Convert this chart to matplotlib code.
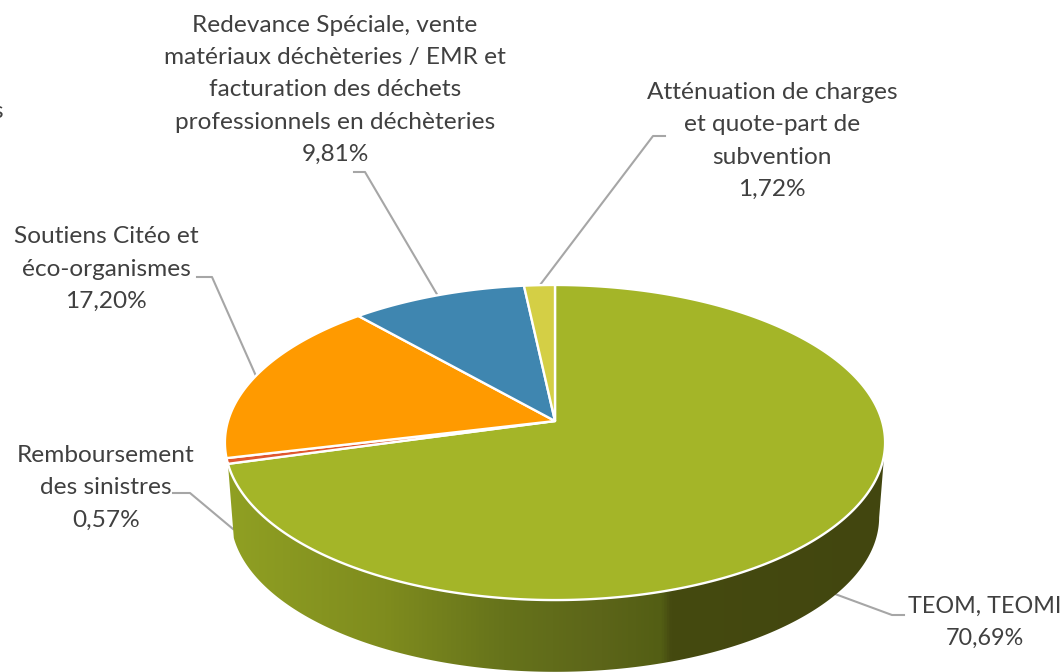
"""
3D-looking pie of revenue shares (TEOM, soutiens, ...) drawn with matplotlib.
"""
import numpy as np
import matplotlib
matplotlib.use("Agg")
import matplotlib.pyplot as plt
from matplotlib.colors import LinearSegmentedColormap
from matplotlib.patches import PathPatch
from matplotlib.path import Path

# data, clockwise from 12 o'clock
shares = [70.69, 0.57, 17.20, 9.81, 1.72]
share_labels = ["70,69%", "0,57%", "17,20%", "9,81%", "1,72%"]
names = [
    "TEOM, TEOMI",
    "Remboursement\ndes sinistres",
    "Soutiens Citéo et\néco-organismes",
    "Redevance Spéciale, vente\nmatériaux déchèteries / EMR et\nfacturation des déchets\nprofessionnels en déchèteries",
    "Atténuation de charges\net quote-part de\nsubvention",
]
colors = ["#a4b528", "#e0572e", "#ff9a00", "#3f86b0", "#d4cf45"]

# where the labels and their leader lines go (pixels)
label_pos = [(985, 622), (106, 488), (106, 269), (335, 90), (772, 141)]
label_sizes = [16.8, 17.6, 17.6, 17.6, 17.6]
leaders = [
    [(835, 594), (892, 615), (904, 615)],
    [(233, 529), (190, 493), (173, 493)],
    [(256, 376), (212, 277), (197, 277)],
    [(438, 296), (365, 172), (354, 172)],
    [(540, 285), (653, 136), (665, 136)],
]

# perspective of the disc
CX, CY = 555, 421
A, B, K = 327, 154.6, 0.1366
DEPTH_Y, DEPTH_SCALE = 496, 0.982

side_stops = ["#90a023", "#7f8c1e", "#66731b", "#5c6519", "#535e14", "#454a10", "#42460f"]
side_xpos = [0.0, 0.24, 0.42, 0.57, 0.66, 0.675, 1.0]


def project(theta):
    u, v = np.sin(theta), np.cos(theta)
    w = 1 + K * v
    return CX + A * u / w, CY - B * v / w


def project_bottom(theta):
    x, y = project(theta)
    return CX + DEPTH_SCALE * (x - CX), DEPTH_Y + DEPTH_SCALE * (y - CY)


fig = plt.figure(figsize=(10.64, 6.72), dpi=100)
ax = fig.add_axes([0, 0, 1, 1])
ax.set_xlim(0, 1064)
ax.set_ylim(672, 0)
ax.axis("off")

for pts in leaders:
    xs, ys = zip(*pts)
    ax.plot(xs, ys, color="#a6a6a6", linewidth=1.5, zorder=1, solid_joinstyle="round")

# side wall of the big slice, with a left to right gradient
end_angle = 2 * np.pi * shares[0] / sum(shares)
t = np.linspace(np.radians(98), end_angle, 300)
tx, ty = project(t)
bx, by = project_bottom(t[::-1])
wall = np.column_stack([np.r_[tx, bx], np.r_[ty, by]])
wall_patch = PathPatch(Path(np.vstack([wall, wall[0]]), closed=True), facecolor="none", edgecolor="none")
ax.add_patch(wall_patch)
cmap = LinearSegmentedColormap.from_list("side", list(zip(side_xpos, side_stops)))
img = ax.imshow(np.linspace(0, 1, 512)[None, :], extent=(226, 886, 672, 440), cmap=cmap, aspect="auto", zorder=2)
img.set_clip_path(wall_patch)
ax.set_xlim(0, 1064)
ax.set_ylim(672, 0)

# top of the disc
start = 0.0
for value, color in zip(shares, colors):
    stop = start + value / sum(shares) * 2 * np.pi
    t = np.linspace(start, stop, max(int(value * 6), 8))
    x, y = project(t)
    ax.fill(np.r_[CX, x], np.r_[CY, y], facecolor=color, edgecolor="white", linewidth=1.7, zorder=3, joinstyle="round")
    start = stop

for name, share, (x, y), size in zip(names, share_labels, label_pos, label_sizes):
    ax.text(x, y, f"{name}\n{share}", ha="center", va="center", family="Lato", fontsize=size,
            color="#404040", linespacing=1.66, zorder=4)

# cut-off letter at the left border
ax.text(3, 112, "s", ha="right", va="center", family="Lato", fontsize=17.6, color="#404040")

fig.savefig("out.png", dpi=100)
plt.close(fig)
